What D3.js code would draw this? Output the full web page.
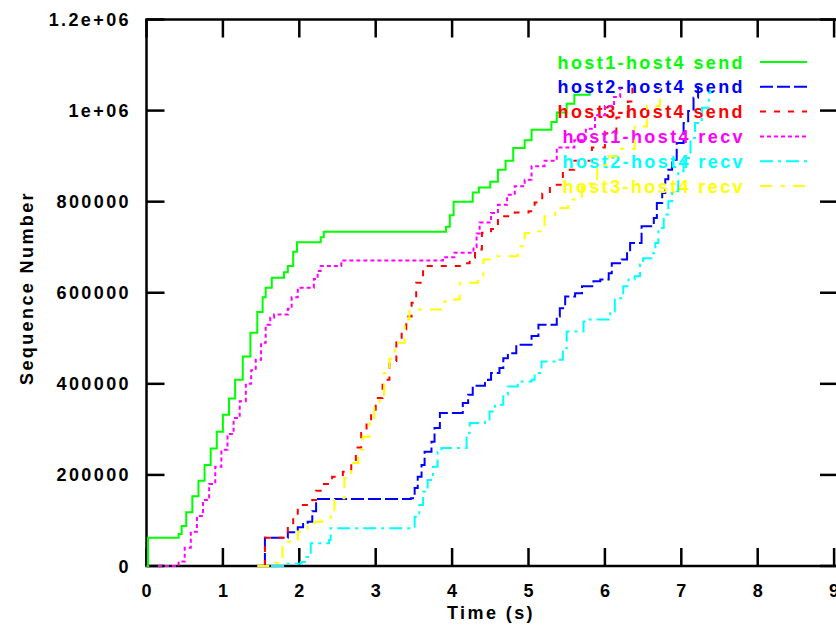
<!DOCTYPE html>
<html>
<head>
<meta charset="utf-8">
<script src="https://cdn.jsdelivr.net/npm/d3@7"></script>
<style>
	body { margin: 0; background: #fff; }
	svg { display: block; }
	text { font-family: "Liberation Sans", Arial, sans-serif; font-size: 18px; font-weight: bold; letter-spacing: 2.4px; }
</style>
</head>
<body>
<svg id="chart" width="836" height="627"></svg>
<script>

// values: [time (s), sequence number]
var host1SendData = [[0,0],[0.02,62000],[0.42,70000],[0.46,88000],[0.52,118000],[0.6,153000],[0.68,187000],[0.76,222000],[0.84,258000],[0.92,295000],[1.0,332000],[1.08,368000],[1.16,409000],[1.26,460000],[1.36,512000],[1.45,558000],[1.52,590000],[1.56,611000],[1.64,633000],[1.8,645000],[1.85,659000],[1.92,690000],[1.97,711000],[2.28,722000],[2.32,734000],[3.92,745000],[3.97,770000],[4.02,800000],[4.27,820000],[4.35,831000],[4.5,844000],[4.6,870000],[4.7,890000],[4.8,918000],[4.95,935000],[5.04,958000],[5.3,975000],[5.37,996000],[5.5,1015000],[5.6,1035000],[5.8,1040000]];
var host2SendData = [[1.55,0],[1.55,62000],[1.85,74000],[1.98,85000],[2.05,92000],[2.11,97000],[2.17,120000],[2.22,147000],[3.46,149000],[3.51,171000],[3.55,196000],[3.6,222000],[3.64,251000],[3.73,273000],[3.77,303000],[3.84,336000],[4.14,358000],[4.21,376000],[4.27,396000],[4.43,402000],[4.47,409000],[4.51,424000],[4.62,435000],[4.67,456000],[4.73,467000],[4.84,486000],[5.04,505000],[5.13,530000],[5.37,548000],[5.41,566000],[5.48,592000],[5.61,599000],[5.7,614000],[5.85,625000],[5.94,629000],[6.05,643000],[6.09,665000],[6.22,673000],[6.29,691000],[6.33,709000],[6.48,746000],[6.64,764000],[6.68,797000],[6.75,819000],[6.79,849000],[6.83,870000],[6.88,892000],[6.94,929000],[7.03,973000],[7.09,999000],[7.16,1028000],[7.22,1054000]];
var host3SendData = [[1.55,0],[1.55,62000],[1.85,86000],[1.92,110000],[1.98,134000],[2.17,145000],[2.22,165000],[2.28,180000],[2.43,196000],[2.57,207000],[2.68,226000],[2.74,260000],[2.81,292000],[2.88,315000],[2.94,339000],[3.0,369000],[3.09,409000],[3.18,450000],[3.27,497000],[3.34,520000],[3.4,548000],[3.47,578000],[3.53,622000],[3.62,659000],[4.14,665000],[4.23,677000],[4.3,695000],[4.39,732000],[4.51,740000],[4.6,768000],[4.82,776000],[5.0,779000],[5.08,798000],[5.18,818000],[5.28,837000],[5.45,870000],[5.6,890000],[5.83,919000],[6.0,950000],[6.15,985000],[6.3,1020000],[6.36,1050000]];
var host1RecvData = [[0.15,0],[0.42,10000],[0.5,40000],[0.58,75000],[0.66,110000],[0.74,145000],[0.82,180000],[0.9,218000],[0.98,255000],[1.06,290000],[1.14,325000],[1.22,362000],[1.3,400000],[1.37,430000],[1.43,453000],[1.5,490000],[1.56,530000],[1.62,545000],[1.67,552000],[1.85,565000],[1.9,590000],[1.98,611000],[2.19,630000],[2.24,648000],[2.28,659000],[2.55,671000],[3.88,678000],[4.03,688000],[4.28,700000],[4.32,730000],[4.36,754000],[4.51,775000],[4.6,793000],[4.72,815000],[4.82,834000],[4.95,848000],[5.04,878000],[5.21,890000],[5.37,919000],[5.6,935000],[5.75,960000],[5.87,990000],[6.0,1010000],[6.12,1030000],[6.2,1050000]];
var host2RecvData = [[1.63,0],[1.82,5000],[2.02,9000],[2.09,20000],[2.15,50000],[2.39,57000],[2.41,83000],[3.46,86000],[3.51,108000],[3.57,134000],[3.62,163000],[3.68,189000],[3.75,218000],[3.81,251000],[3.86,259000],[4.19,292000],[4.23,314000],[4.43,317000],[4.49,339000],[4.56,354000],[4.67,376000],[4.73,394000],[4.86,405000],[5.04,409000],[5.08,424000],[5.17,449000],[5.39,453000],[5.45,478000],[5.5,515000],[5.72,537000],[5.8,541000],[6.07,559000],[6.13,585000],[6.2,588000],[6.24,614000],[6.31,629000],[6.39,636000],[6.46,662000],[6.5,676000],[6.61,687000],[6.66,709000],[6.7,742000],[6.77,772000],[6.83,801000],[6.88,823000],[6.96,867000],[7.03,896000],[7.12,940000],[7.18,973000],[7.27,1006000],[7.36,1039000],[7.38,1046000]];
var host3RecvData = [[1.45,0],[1.69,7000],[1.78,42000],[1.85,53000],[1.98,75000],[2.11,94000],[2.2,97000],[2.3,101000],[2.41,112000],[2.46,145000],[2.52,149000],[2.59,193000],[2.68,226000],[2.77,255000],[2.83,284000],[2.92,314000],[2.98,350000],[3.05,376000],[3.11,424000],[3.18,455000],[3.25,490000],[3.38,541000],[3.44,563000],[3.9,581000],[4.03,585000],[4.1,622000],[4.34,629000],[4.41,673000],[4.51,680000],[4.86,702000],[4.95,731000],[5.13,735000],[5.21,768000],[5.35,786000],[5.52,805000],[5.7,840000],[5.9,880000],[6.05,900000],[6.18,916000],[6.39,965000],[6.55,1010000],[6.72,1050000]];

var seriesNames = ["host1-host4 send", "host2-host4 send", "host3-host4 send", "host1-host4 recv", "host2-host4 recv", "host3-host4 recv"];
var seriesData = [host1SendData, host2SendData, host3SendData, host1RecvData, host2RecvData, host3RecvData];
var seriesColors = ["#00ff00", "#0000ff", "#ff0000", "#ff00ff", "#00ffff", "#ffff00"];
var seriesDashes = ["none", "13,4", "6,8", "4,3", "13,5,3,5", "12,9,4,8"];

var xTicks = [0, 1, 2, 3, 4, 5, 6, 7, 8, 9];
var yTicks = [0, 200000, 400000, 600000, 800000, 1000000, 1200000];
var yTickLabels = ["0", "200000", "400000", "600000", "800000", "1e+06", "1.2e+06"];

var svg = d3.select("#chart");

var plotLeft = 146.5, plotRight = 838, plotTop = 19.5, plotBottom = 566;
var unit = 76.4;

var x = d3.scaleLinear()
	.domain([0, (plotRight - plotLeft) / unit])
	.range([plotLeft, plotRight]);

var y = d3.scaleLinear()
	.domain([0, 1200000])
	.range([plotBottom, plotTop]);

var tickLen = 18;

// border
svg.append("rect")
	.attr("x", plotLeft).attr("y", plotTop)
	.attr("width", plotRight - plotLeft).attr("height", plotBottom - plotTop)
	.attr("fill", "none").attr("stroke", "#000").attr("stroke-width", 2.5);

// ticks on all four sides, pointing in
var tk = svg.append("g").attr("stroke", "#000").attr("stroke-width", 2.5);
xTicks.forEach(function (t) {
	tk.append("line").attr("x1", x(t)).attr("x2", x(t)).attr("y1", plotBottom).attr("y2", plotBottom - tickLen);
	tk.append("line").attr("x1", x(t)).attr("x2", x(t)).attr("y1", plotTop).attr("y2", plotTop + tickLen);
});
yTicks.forEach(function (v) {
	tk.append("line").attr("x1", plotLeft).attr("x2", plotLeft + tickLen).attr("y1", y(v)).attr("y2", y(v));
	tk.append("line").attr("x1", plotRight).attr("x2", plotRight - tickLen).attr("y1", y(v)).attr("y2", y(v));
});

svg.append("g").selectAll("text")
	.data(xTicks)
	.join("text")
	.attr("x", function (d) { return x(d) + 1.2; })
	.attr("y", 597)
	.attr("text-anchor", "middle")
	.text(function (d) { return d; });

svg.append("g").selectAll("text")
	.data(yTicks)
	.join("text")
	.attr("x", 131)
	.attr("y", function (d) { return y(d) + 6.5; })
	.attr("text-anchor", "end")
	.text(function (d, i) { return yTickLabels[i]; });

svg.append("text")
	.attr("x", 491)
	.attr("y", 619)
	.attr("text-anchor", "middle")
	.text("Time (s)");

svg.append("text")
	.attr("transform", "translate(33,288) rotate(-90)")
	.attr("text-anchor", "middle")
	.text("Sequence Number");

var line = d3.line()
	.curve(d3.curveStepAfter)
	.x(function (d) { return x(d[0]); })
	.y(function (d) { return y(d[1]); });

var keyTextX = 745, keySampleX1 = 760, keySampleX2 = 807;
var keyTop = 62, keyStep = 24.8;

seriesNames.forEach(function (name, i) {
	var ky = keyTop + i * keyStep;
	svg.append("text")
		.attr("x", keyTextX)
		.attr("y", ky + 6.5)
		.attr("text-anchor", "end")
		.attr("fill", seriesColors[i])
		.text(name);
	svg.append("line")
		.attr("x1", keySampleX1).attr("x2", keySampleX2)
		.attr("y1", ky).attr("y2", ky)
		.attr("stroke", seriesColors[i])
		.attr("stroke-width", 2)
		.attr("stroke-dasharray", seriesDashes[i]);
	svg.append("path")
		.datum(seriesData[i])
		.attr("d", line)
		.attr("fill", "none")
		.attr("stroke", seriesColors[i])
		.attr("stroke-width", 2)
		.attr("stroke-dasharray", seriesDashes[i]);
});

</script>
</body>
</html>
